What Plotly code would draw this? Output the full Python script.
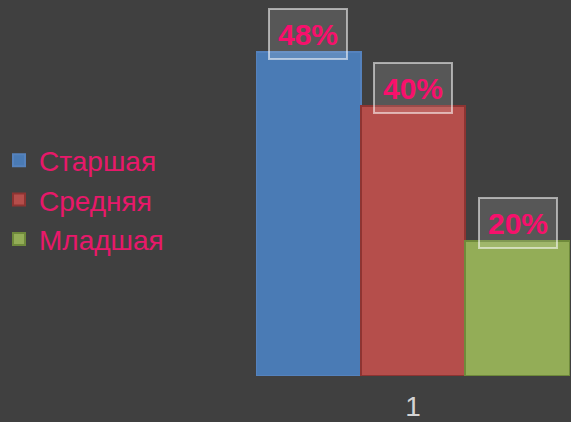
import plotly.graph_objects as go

categories = ["1"]
series_names = ["Старшая", "Средняя", "Младшая"]
series_values = [48, 40, 20]
value_labels = ["48%", "40%", "20%"]
fill_colors = ["#4a7bb5", "#b54e4b", "#93ad57"]
line_colors = ["#5582bd", "#8e3432", "#6f8a3b"]

fig = go.Figure()
for i, name in enumerate(series_names):
    fig.add_trace(go.Bar(
        x=categories, y=[series_values[i]], name=name,
        legendgroup=name,
        marker=dict(color=fill_colors[i], line=dict(color=line_colors[i], width=2)),
    ))

n = len(series_names)
for i, lab in enumerate(value_labels):
    fig.add_annotation(
        x=(i - (n - 1) / 2) / n, y=series_values[i], xref="x", yref="y",
        text="<b>" + lab + "</b>", showarrow=False, yshift=18,
        font=dict(family="Liberation Sans, Arial", size=30, color="#f7106c"),
        bgcolor="rgba(255,255,255,0.12)", bordercolor="rgba(255,255,255,0.55)",
        borderwidth=2, borderpad=0, width=76, height=48,
    )

fig.update_layout(
    width=571, height=422,
    margin=dict(l=256, r=1, t=0, b=46, autoexpand=False),
    paper_bgcolor="#404040", plot_bgcolor="#404040",
    barmode="group", bargap=0, bargroupgap=0,
    showlegend=True,
    legend=dict(x=-257 / 314, xanchor="left", y=1 - 200 / 376, yanchor="middle",
                font=dict(family="Liberation Sans, Arial", size=28, color="#e8186a"),
                bgcolor="rgba(0,0,0,0)", tracegroupgap=0, itemwidth=30),
    xaxis=dict(type="category", range=[-0.5, 0.5], showgrid=False, zeroline=False,
               showline=False, ticks="", ticklabelstandoff=11, automargin=False,
               tickfont=dict(family="Liberation Sans, Arial", size=28, color="#d4d4d4")),
    yaxis=dict(range=[0, 376 / 6.75], visible=False, showgrid=False, automargin=False),
)
fig.write_html("out.html", config={"displayModeBar": False},
               post_script="document.body.style.margin='0';document.body.style.padding='0';document.body.style.overflow='hidden';document.body.style.background='#404040';")
